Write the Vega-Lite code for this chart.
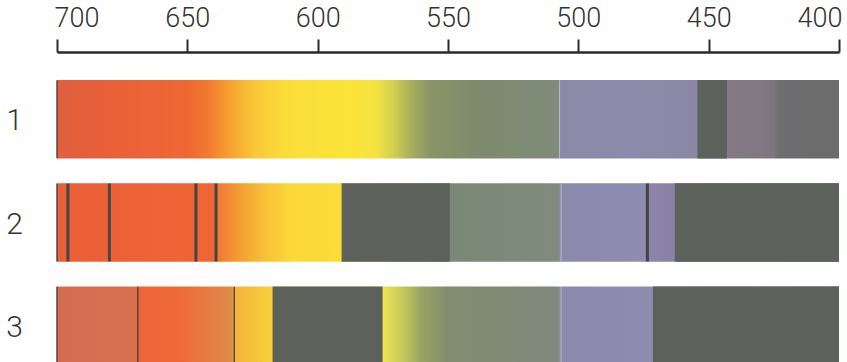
{
  "$schema": "https://vega.github.io/schema/vega-lite/v6.json",
  "width": 782,
  "height": 285,
  "autosize": "none",
  "padding": {"left": 57, "top": 80, "right": 8, "bottom": 0},
  "background": "white",
  "config": {"view": {"stroke": null}, "font": "Roboto"},
  "datasets": {
    "bands": [
      {"band": "1", "start": 700, "end": 400},
      {"band": "2", "start": 700, "end": 400},
      {"band": "3", "start": 700, "end": 400}
    ],
    "absorbed": [
      {"band": "1", "start": 454.3, "end": 443},
      {"band": "2", "start": 590.8, "end": 549.3},
      {"band": "2", "start": 463, "end": 400},
      {"band": "3", "start": 617.3, "end": 575.1},
      {"band": "3", "start": 471.4, "end": 400}
    ],
    "lines": [
      {"band": "1", "start": 700, "kind": "weak"},
      {"band": "2", "start": 700, "kind": "weak"},
      {"band": "2", "start": 695.8, "kind": "strong"},
      {"band": "2", "start": 679.9, "kind": "strong"},
      {"band": "2", "start": 646.7, "kind": "strong"},
      {"band": "2", "start": 639.0, "kind": "strong"},
      {"band": "2", "start": 473.5, "kind": "strong"},
      {"band": "3", "start": 700, "kind": "weak"},
      {"band": "3", "start": 669.0, "kind": "weak"},
      {"band": "3", "start": 632.0, "kind": "weak"},
      {"band": "1", "start": 507.2, "kind": "seam"},
      {"band": "2", "start": 506.6, "kind": "seam"},
      {"band": "3", "start": 506.6, "kind": "seam"}
    ]
  },
  "encoding": {
    "x": {
      "field": "start",
      "type": "quantitative",
      "scale": {"domain": [700, 400], "nice": false, "zero": false},
      "axis": {
        "orient": "top",
        "title": null,
        "values": [700, 650, 600, 550, 500, 450, 400],
        "format": "d",
        "grid": false,
        "offset": 28,
        "domainColor": "#2b2b2b",
        "domainWidth": 2.5,
        "tickColor": "#2b2b2b",
        "tickWidth": 2,
        "tickSize": 13,
        "labelPadding": 7,
        "labelFlush": true,
        "labelFlushOffset": 3,
        "labelFontSize": 27,
        "labelFont": "Roboto",
        "labelFontWeight": 300,
        "labelColor": "#333333"
      }
    },
    "y": {
      "field": "band",
      "type": "ordinal",
      "scale": {"domain": ["1", "2", "3"], "paddingInner": 0.24, "paddingOuter": 0},
      "axis": {
        "title": null,
        "domain": false,
        "ticks": false,
        "tickSize": 0,
        "labelAlign": "center",
        "labelBaseline": "middle",
        "labelPadding": 43,
        "labelOffset": 2,
        "labelFontSize": 30,
        "labelFont": "Roboto",
        "labelFontWeight": 300,
        "labelColor": "#333333"
      }
    }
  },
  "layer": [
    {
      "data": {"name": "bands"},
      "transform": [{"filter": "datum.band == '1'"}],
      "mark": {
        "type": "rect",
        "color": {
          "gradient": "linear", "x1": 0, "y1": 0, "x2": 1, "y2": 0,
          "stops": [
            {"offset": 0, "color": "#df5f40"},
            {"offset": 0.0333, "color": "#e55f3b"},
            {"offset": 0.1, "color": "#eb6237"},
            {"offset": 0.1667, "color": "#ef6834"},
            {"offset": 0.1933, "color": "#f2792f"},
            {"offset": 0.22, "color": "#f6a030"},
            {"offset": 0.2533, "color": "#f9c838"},
            {"offset": 0.2933, "color": "#fbdd3a"},
            {"offset": 0.3667, "color": "#fce338"},
            {"offset": 0.4067, "color": "#f6e23f"},
            {"offset": 0.43, "color": "#d2d04f"},
            {"offset": 0.4533, "color": "#a8ad5d"},
            {"offset": 0.4767, "color": "#8a9566"},
            {"offset": 0.5333, "color": "#7f8b6c"},
            {"offset": 0.64, "color": "#7e8b7b"},
            {"offset": 0.6433, "color": "#8a89a7"},
            {"offset": 0.7333, "color": "#8d8aab"},
            {"offset": 0.82, "color": "#8b87a5"},
            {"offset": 0.8567, "color": "#847a87"},
            {"offset": 0.9167, "color": "#7d767f"},
            {"offset": 0.9233, "color": "#6e6e70"},
            {"offset": 1, "color": "#6b6b6b"}
          ]
        }
      },
      "encoding": {"x2": {"field": "end"}}
    },
    {
      "data": {"name": "bands"},
      "transform": [{"filter": "datum.band == '2'"}],
      "mark": {
        "type": "rect",
        "color": {
          "gradient": "linear", "x1": 0, "y1": 0, "x2": 1, "y2": 0,
          "stops": [
            {"offset": 0, "color": "#e5603c"},
            {"offset": 0.02, "color": "#ea5f37"},
            {"offset": 0.2, "color": "#ef6634"},
            {"offset": 0.2067, "color": "#f17a34"},
            {"offset": 0.23, "color": "#f49a31"},
            {"offset": 0.2667, "color": "#f8c236"},
            {"offset": 0.3, "color": "#fbd83a"},
            {"offset": 0.36, "color": "#fbdc38"},
            {"offset": 0.5, "color": "#7b8876"},
            {"offset": 0.64, "color": "#7f8c7c"},
            {"offset": 0.6433, "color": "#8c8aab"},
            {"offset": 0.75, "color": "#8e8cb0"},
            {"offset": 0.7567, "color": "#8c84aa"},
            {"offset": 0.79, "color": "#8a82a4"},
            {"offset": 1, "color": "#5f6362"}
          ]
        }
      },
      "encoding": {"x2": {"field": "end"}}
    },
    {
      "data": {"name": "bands"},
      "transform": [{"filter": "datum.band == '3'"}],
      "mark": {
        "type": "rect",
        "color": {
          "gradient": "linear", "x1": 0, "y1": 0, "x2": 1, "y2": 0,
          "stops": [
            {"offset": 0, "color": "#d46d50"},
            {"offset": 0.1, "color": "#d87150"},
            {"offset": 0.1033, "color": "#ee6537"},
            {"offset": 0.16, "color": "#f06a38"},
            {"offset": 0.1833, "color": "#e8773f"},
            {"offset": 0.2233, "color": "#df8b48"},
            {"offset": 0.2267, "color": "#f4b43a"},
            {"offset": 0.2767, "color": "#f8d03c"},
            {"offset": 0.4167, "color": "#eee352"},
            {"offset": 0.44, "color": "#c9cc5a"},
            {"offset": 0.4667, "color": "#98a263"},
            {"offset": 0.5, "color": "#828c6e"},
            {"offset": 0.64, "color": "#7e8a7e"},
            {"offset": 0.6433, "color": "#8b8aac"},
            {"offset": 0.76, "color": "#8e8cae"},
            {"offset": 1, "color": "#5d6160"}
          ]
        }
      },
      "encoding": {"x2": {"field": "end"}}
    },
    {
      "data": {"name": "absorbed"},
      "mark": {"type": "rect", "color": "#5c615c"},
      "encoding": {"x2": {"field": "end"}}
    },
    {
      "data": {"name": "lines"},
      "transform": [{"filter": "datum.kind == 'strong'"}],
      "mark": {"type": "tick", "orient": "vertical", "size": 78, "thickness": 3, "color": "#474445", "opacity": 1}
    },
    {
      "data": {"name": "lines"},
      "transform": [{"filter": "datum.kind == 'weak'"}],
      "mark": {"type": "tick", "orient": "vertical", "size": 78, "thickness": 1.5, "color": "#55473f", "opacity": 1}
    },
    {
      "data": {"name": "lines"},
      "transform": [{"filter": "datum.kind == 'seam'"}],
      "mark": {"type": "tick", "orient": "vertical", "size": 78, "thickness": 1, "color": "#c4c6d2", "opacity": 0.8}
    }
  ]
}
